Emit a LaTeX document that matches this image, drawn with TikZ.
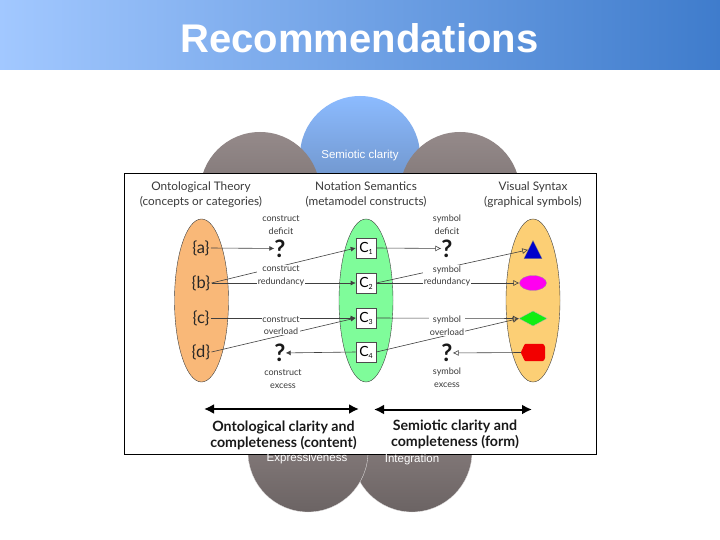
\documentclass[tikz,border=0pt]{standalone}
\usepackage{fontspec}
\setmainfont{Liberation Sans}
\newfontfamily\dgm{Lato}
\usetikzlibrary{arrows.meta,shapes.geometric}
\definecolor{txtgrey}{HTML}{3A3A3A}
\definecolor{HBlueL}{HTML}{A2C8FF}
\definecolor{HBlueR}{HTML}{3F7CCC}
\definecolor{blueP}{HTML}{8CBBFF}
\definecolor{brownP}{HTML}{958A8A}
\definecolor{ontoOrange}{HTML}{F9B878}
\definecolor{semGreen}{HTML}{7FFC9A}
\definecolor{visYellow}{HTML}{FCCF75}
\definecolor{symBlue}{HTML}{0000CC}
\definecolor{symMag}{HTML}{FF00F0}
\definecolor{symGreen}{HTML}{11EE11}
\definecolor{symRed}{HTML}{F20000}
\tikzset{
 petalbrown/.style={circle,minimum size=120pt,inner sep=0pt,top color=#1,bottom color=#1!72!black},
 petalblue/.style={circle,minimum size=120pt,inner sep=0pt,top color=#1,bottom color=#1!72!black},
 petaltxt/.style={text=white,font=\fontsize{11.5}{12}\selectfont,inner sep=0pt},
 head/.style={font=\dgm\fontsize{11.8}{15}\selectfont,text=txtgrey,align=center,inner sep=0pt},
 lab/.style={font=\dgm\fontsize{9}{12.6}\selectfont,text=txtgrey,align=center,inner sep=0.6pt,fill=white},
 bigell/.style={ellipse,draw=black!75,line width=0.4pt,minimum width=54pt,minimum height=163pt,inner sep=0pt},
 setn/.style={font=\dgm\fontsize{16.5}{16.5}\selectfont,text=black!85,inner sep=1pt},
 cbox/.style={draw=black!70,fill=white,line width=0.6pt,minimum width=20pt,minimum height=20pt,inner sep=0pt,font=\dgm\fontsize{14}{14}\selectfont},
 qm/.style={font=\dgm\bfseries\fontsize{24}{24}\selectfont,text=black!90,inner sep=0pt},
 fwd/.style={draw=black!75,line width=0.6pt,-{Latex[length=5pt,width=5pt]}},
 fwdo/.style={draw=black!75,line width=0.6pt,-{Latex[open,length=6pt,width=6pt]}},
 bigarrow/.style={line width=2pt,{Latex[length=10pt,width=10pt]}-{Latex[length=10pt,width=10pt]}},
 bold/.style={font=\dgm\bfseries\fontsize{14.2}{16.5}\selectfont,text=black!90,align=center,inner sep=0pt},
}
\begin{document}
\begin{tikzpicture}[x=1pt,y=-1pt]
\useasboundingbox (0,0) rectangle (720,540);
\fill[white] (0,0) rectangle (720,540);
\shade[left color=HBlueL,right color=HBlueR] (0,0) rectangle (720,70);
\node[text=white,font=\bfseries\fontsize{40}{42}\selectfont,inner sep=0pt] (title) at (359.5,38) {Recommendations};
% petals
\node[petalblue={blueP}] (p1) at (360,156) {};
\node[petalbrown={brownP}] (p2) at (260,192) {};
\node[petalbrown={brownP}] (p3) at (460,192) {};
\node[petalbrown={brownP},draw=white!80!brownP,line width=0.3pt] (p5) at (412,452) {};
\node[petalbrown={brownP},draw=white!80!brownP,line width=0.3pt] (p4) at (308,452) {};
\node[petaltxt] (t1) at (360,155.5) {Semiotic clarity};
% white panel
\node[draw=black,fill=white,line width=0.8pt,minimum width=472pt,minimum height=281pt,inner sep=0pt] (panel) at (360,313.5) {};
\node[petaltxt] (t4) at (307,458.5) {Expressiveness};
\node[petaltxt] (t5) at (412,459.5) {Integration};
% heads
\node[head] (h1) at (201,194.5) {Ontological Theory\\(concepts or categories)};
\node[head] (h2) at (366,194.5) {Notation Semantics\\(metamodel constructs)};
\node[head] (h3) at (533,194.5) {Visual Syntax\\(graphical symbols)};
% ellipses
\node[bigell,fill=ontoOrange] (E1) at (201.5,300.5) {};
\node[bigell,fill=semGreen] (E2) at (366,300.5) {};
\node[bigell,fill=visYellow] (E3) at (533,300.5) {};
% set labels
\node[setn] (a) at (201,248) {\{a\}};
\node[setn] (b) at (201,283) {\{b\}};
\node[setn] (c) at (201,318) {\{c\}};
\node[setn] (d) at (201,352) {\{d\}};
% constructs
\node[cbox] (C1) at (366,248) {C\raisebox{-2pt}{\fontsize{7}{7}\selectfont 1}};
\node[cbox] (C2) at (366,283) {C\raisebox{-2pt}{\fontsize{7}{7}\selectfont 2}};
\node[cbox] (C3) at (366,318) {C\raisebox{-2pt}{\fontsize{7}{7}\selectfont 3}};
\node[cbox] (C4) at (366,352) {C\raisebox{-2pt}{\fontsize{7}{7}\selectfont 4}};
% symbols
\node[isosceles triangle,isosceles triangle apex angle=60,isosceles triangle stretches,shape border rotate=90,fill=symBlue,draw=black!50,line width=0.3pt,minimum height=18pt,minimum width=18pt,inner sep=0pt] (S1) at (533,253) {};
\node[ellipse,fill=symMag,draw=black!40,line width=0.3pt,minimum width=27pt,minimum height=15pt,inner sep=0pt] (S2) at (533,283) {};
\node[diamond,aspect=1.9,fill=symGreen,draw=black!30,line width=0.3pt,minimum width=28pt,minimum height=15pt,inner sep=0pt] (S3) at (533,318.5) {};
\node[minimum width=24pt,minimum height=17pt,inner sep=0pt] (S4) at (533,352.5) {};
\fill[symRed,rounded corners=1pt] (S4.west) -- ([xshift=4pt]S4.north west) -- ([xshift=-2pt]S4.north east) -- ([yshift=-3pt]S4.north east) -- ([yshift=3pt]S4.south east) -- ([xshift=-2pt]S4.south east) -- ([xshift=4pt]S4.south west) -- cycle;
% question marks
\node[qm] (q1) at (280,248.5) {?};
\node[qm] (q2) at (280,353) {?};
\node[qm] (q3) at (447,248.5) {?};
\node[qm] (q4) at (447,353) {?};
% connectors
\draw[fwd] (a.east) -- (q1);
\draw[fwd] (b.east) -- (C1.west);
\draw[fwd] (b.east) -- (C2.west);
\draw[fwd] (c.east) -- (C3.west);
\draw[fwd] (d.east) -- (C3.west);
\draw[fwd] (C4.west) -- (q2);
\draw[fwdo] (C1.east) -- (q3);
\draw[fwdo] (C2.east) -- (S1.146);
\draw[fwdo] (C2.east) -- (S2.west);
\draw[fwdo] (C3.east) -- (S3.west);
\draw[fwdo] (C4.east) -- (S3.west);
\draw[fwdo] (S4.west) -- (q4);
% connector labels
\node[lab,fill=none] (l1) at (281,225) {construct\\deficit};
\node[lab] (l2) at (281,276) {construct\\redundancy};
\node[lab] (l3) at (281,325.5) {construct\\overload};
\node[lab,fill=none] (l4) at (283,379) {construct\\excess};
\node[lab,fill=none] (l5) at (447,225) {symbol\\deficit};
\node[lab] (l6) at (447,276) {symbol\\redundancy};
\node[lab] (l7) at (447,325.5) {symbol\\overload};
\node[lab,fill=none] (l8) at (447,378) {symbol\\excess};
% bottom arrows
\coordinate (A1) at (204,409);
\coordinate (A2) at (359,409);
\coordinate (B1) at (374,409.5);
\coordinate (B2) at (532,409.5);
\draw[bigarrow] (A1) -- (A2);
\draw[bigarrow] (B1) -- (B2);
\node[bold] (o) at (283.5,435.5) {Ontological clarity and\\completeness (content)};
\node[bold] (s) at (455,434.5) {Semiotic clarity and\\completeness (form)};
\end{tikzpicture}
\end{document}
